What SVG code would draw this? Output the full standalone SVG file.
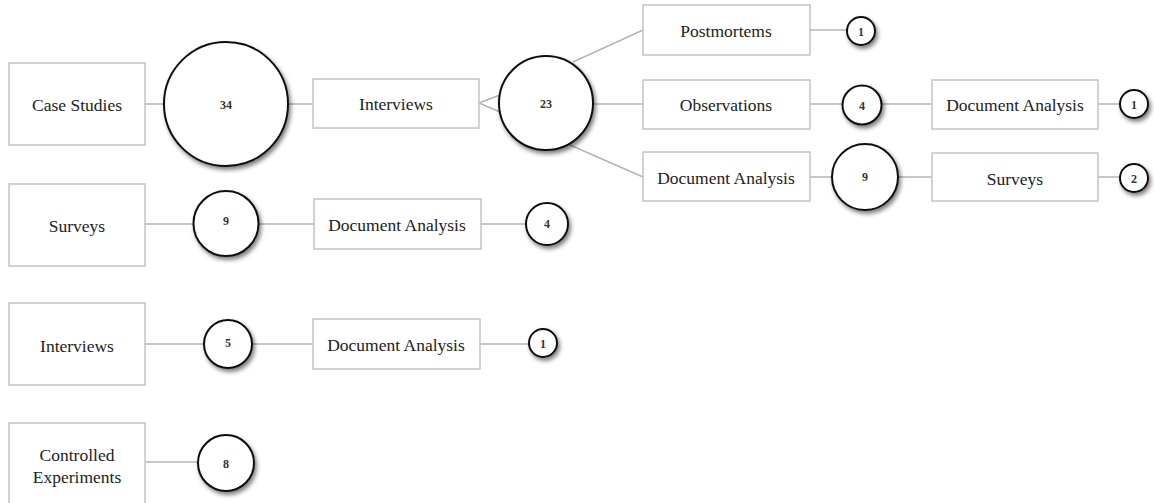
<svg xmlns="http://www.w3.org/2000/svg" width="1154" height="503" viewBox="0 0 1154 503">
<defs>
<filter id="sh" x="-30%" y="-30%" width="170%" height="170%">
<feDropShadow dx="2" dy="3" stdDeviation="2" flood-color="#000" flood-opacity="0.5"/>
</filter>
<style>
.box{fill:#fff;stroke:#c4c4c4;stroke-width:1.5}
.circ{fill:#fff;stroke:#111;stroke-width:2;filter:url(#sh)}
.lbl{font-family:"Liberation Serif","Times New Roman",serif;font-size:17.5px;fill:#222;text-anchor:middle;dominant-baseline:central}
.num{font-family:"Liberation Serif","Times New Roman",serif;font-size:12px;font-weight:bold;fill:#333;text-anchor:middle;dominant-baseline:central}
.edge{stroke:#b4b4b4;stroke-width:1.5;fill:none}
</style>
</defs>
<rect width="1154" height="503" fill="#fff"/>
<g id="connectors">
<line class="edge" x1="145" y1="104" x2="164" y2="104"/>
<line class="edge" x1="288" y1="104" x2="313" y2="104"/>
<line class="edge" x1="479" y1="103" x2="500" y2="95"/>
<line class="edge" x1="479" y1="103" x2="500" y2="112"/>
<line class="edge" x1="573" y1="62" x2="643" y2="30"/>
<line class="edge" x1="592" y1="104" x2="643" y2="104"/>
<line class="edge" x1="570" y1="145" x2="643" y2="177"/>
<line class="edge" x1="810" y1="30" x2="847" y2="30"/>
<line class="edge" x1="810" y1="104" x2="843" y2="104"/>
<line class="edge" x1="881" y1="104" x2="932" y2="104"/>
<line class="edge" x1="1098" y1="104" x2="1120" y2="104"/>
<line class="edge" x1="810" y1="177" x2="832" y2="177"/>
<line class="edge" x1="898" y1="177" x2="932" y2="177"/>
<line class="edge" x1="1098" y1="177" x2="1120" y2="177"/>
<line class="edge" x1="145" y1="224" x2="194" y2="224"/>
<line class="edge" x1="258" y1="224" x2="314" y2="224"/>
<line class="edge" x1="481" y1="224" x2="526" y2="224"/>
<line class="edge" x1="145" y1="344" x2="204" y2="344"/>
<line class="edge" x1="252" y1="344" x2="313" y2="344"/>
<line class="edge" x1="480" y1="344" x2="529" y2="344"/>
<line class="edge" x1="145" y1="462" x2="198" y2="462"/>
</g>
<g id="n-case-studies"><rect class="box" x="9" y="63" width="136" height="82"/><text class="lbl" x="77" y="105">Case Studies</text></g>
<g id="n-c34"><circle class="circ" cx="226" cy="104" r="62"/><text class="num" x="226" y="105">34</text></g>
<g id="n-interviews-1"><rect class="box" x="313" y="79" width="166" height="49"/><text class="lbl" x="396" y="104">Interviews</text></g>
<g id="n-c23"><circle class="circ" cx="546" cy="103" r="47"/><text class="num" x="546" y="104">23</text></g>
<g id="n-postmortems"><rect class="box" x="643" y="5" width="167" height="50"/><text class="lbl" x="726" y="31">Postmortems</text></g>
<g id="n-c1a"><circle class="circ" cx="861" cy="31" r="14"/><text class="num" x="861" y="32">1</text></g>
<g id="n-observations"><rect class="box" x="643" y="80" width="167" height="49"/><text class="lbl" x="726" y="105">Observations</text></g>
<g id="n-c4a"><circle class="circ" cx="862" cy="105" r="19.5"/><text class="num" x="862" y="106">4</text></g>
<g id="n-docanalysis-1"><rect class="box" x="932" y="80" width="166" height="49"/><text class="lbl" x="1015" y="105">Document Analysis</text></g>
<g id="n-c1b"><circle class="circ" cx="1134" cy="104" r="14"/><text class="num" x="1134" y="105">1</text></g>
<g id="n-docanalysis-2"><rect class="box" x="643" y="152" width="167" height="49"/><text class="lbl" x="726" y="178">Document Analysis</text></g>
<g id="n-c9a"><circle class="circ" cx="865" cy="177" r="33"/><text class="num" x="865" y="177">9</text></g>
<g id="n-surveys-1"><rect class="box" x="932" y="153" width="166" height="48"/><text class="lbl" x="1015" y="179">Surveys</text></g>
<g id="n-c2"><circle class="circ" cx="1134" cy="178" r="14"/><text class="num" x="1134" y="179">2</text></g>
<g id="n-surveys-2"><rect class="box" x="9" y="184" width="136" height="82"/><text class="lbl" x="77" y="226">Surveys</text></g>
<g id="n-c9b"><circle class="circ" cx="226" cy="223.5" r="32.5"/><text class="num" x="226" y="221">9</text></g>
<g id="n-docanalysis-3"><rect class="box" x="314" y="199" width="167" height="50"/><text class="lbl" x="397" y="225">Document Analysis</text></g>
<g id="n-c4b"><circle class="circ" cx="547" cy="224" r="21"/><text class="num" x="547" y="224">4</text></g>
<g id="n-interviews-2"><rect class="box" x="9" y="303" width="136" height="82"/><text class="lbl" x="77" y="346">Interviews</text></g>
<g id="n-c5"><circle class="circ" cx="228" cy="344" r="24"/><text class="num" x="228" y="343">5</text></g>
<g id="n-docanalysis-4"><rect class="box" x="313" y="319" width="167" height="50"/><text class="lbl" x="396" y="345">Document Analysis</text></g>
<g id="n-c1c"><circle class="circ" cx="543" cy="343" r="14"/><text class="num" x="543" y="344">1</text></g>
<g id="n-controlled"><rect class="box" x="9" y="423" width="136" height="82"/><text class="lbl" x="77" y="455">Controlled</text><text class="lbl" x="77" y="477">Experiments</text></g>
<g id="n-c8"><circle class="circ" cx="226" cy="463" r="28"/><text class="num" x="226" y="464">8</text></g>
</svg>
